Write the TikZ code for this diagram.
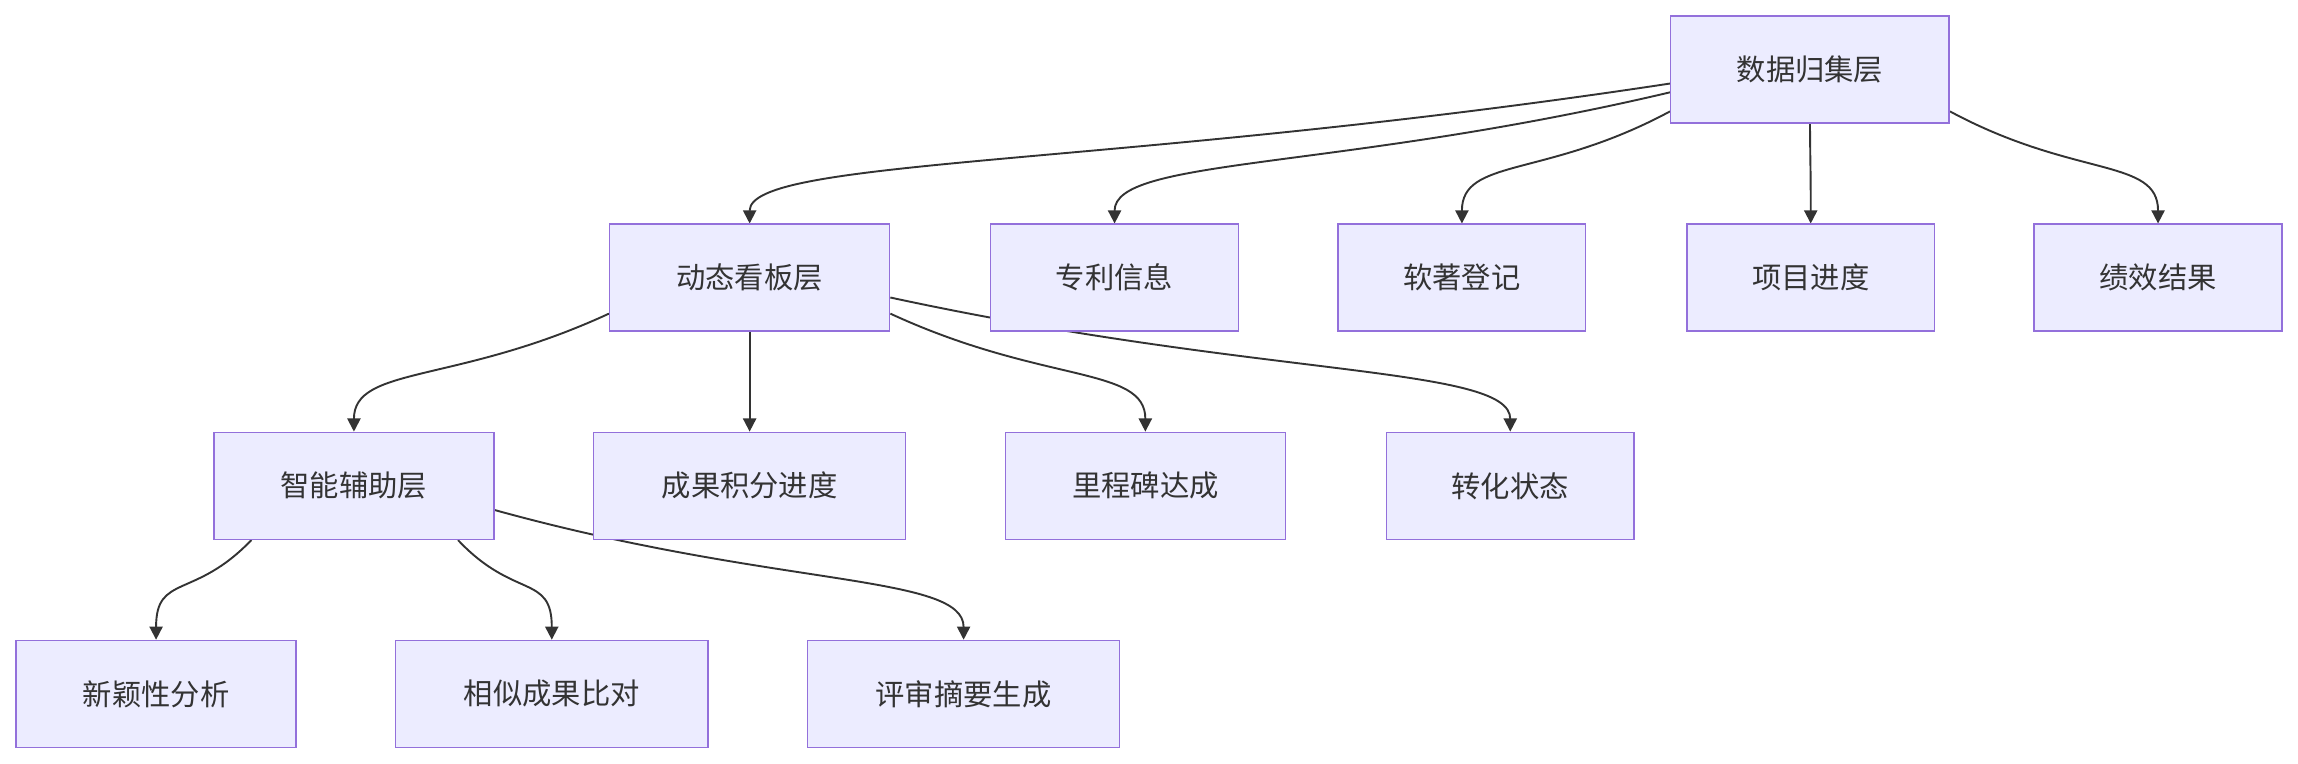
\documentclass[tikz,border=0pt]{standalone}
\usepackage{fontspec}
\setmainfont{Noto Sans CJK SC}
\usetikzlibrary{calc,arrows.meta,backgrounds}
\begin{document}
\begin{tikzpicture}[x=1pt,y=-1pt,
 box/.style={draw=mpurple,fill=mfill,line width=1pt,minimum height=73pt,inner sep=0pt,font=\fontsize{20}{24}\selectfont,text=mtext},
 e/.style={draw=mline,line width=1.3pt,-{Triangle[length=9pt,width=9pt]}}]
\definecolor{mpurple}{HTML}{9370DB}
\definecolor{mfill}{HTML}{ECECFF}
\definecolor{mline}{HTML}{333333}
\definecolor{mtext}{HTML}{333333}
\newcommand\myedge[2]{\draw[e] (#1) .. controls ($(#1)!0.6!(#2)$) and ($(#2)+(0,-45)$) .. (#2);}
\useasboundingbox (0,0) rectangle (1568,521);
\node[box,minimum width=190pt] (d) at (1235,47.5) {数据归集层};
\node[box,minimum width=191pt] (k) at (511.5,189.5) {动态看板层};
\node[box,minimum width=169pt] (p) at (760.5,189.5) {专利信息};
\node[box,minimum width=169pt] (s) at (997.5,189.5) {软著登记};
\node[box,minimum width=169pt] (x) at (1235.5,189.5) {项目进度};
\node[box,minimum width=169pt] (j) at (1472.5,189.5) {绩效结果};
\node[box,minimum width=191pt] (z) at (241.5,331.5) {智能辅助层};
\node[box,minimum width=213pt] (c) at (511.5,331.5) {成果积分进度};
\node[box,minimum width=191pt] (l) at (781.5,331.5) {里程碑达成};
\node[box,minimum width=169pt] (t) at (1030.5,331.5) {转化状态};
\node[box,minimum width=191pt] (n) at (106.5,473.5) {新颖性分析};
\node[box,minimum width=213pt] (r) at (376.5,473.5) {相似成果比对};
\node[box,minimum width=213pt] (v) at (657.5,473.5) {评审摘要生成};
\begin{scope}[on background layer]
\myedge{[yshift=-9.5pt]d.west}{k.north}
\myedge{[yshift=-15.5pt]d.west}{p.north}
\myedge{[yshift=-28.5pt]d.west}{s.north}
\myedge{d.south}{x.north}
\myedge{[yshift=-28.5pt]d.east}{j.north}
\myedge{[yshift=-24.5pt]k.west}{z.north}
\myedge{k.south}{c.north}
\myedge{[yshift=-24.5pt]k.east}{l.north}
\myedge{[yshift=-13.5pt]k.east}{t.north}
\myedge{[xshift=-70pt]z.south}{n.north}
\myedge{[xshift=71pt]z.south}{r.north}
\myedge{[yshift=-16.5pt]z.east}{v.north}
\end{scope}
\end{tikzpicture}
\end{document}
